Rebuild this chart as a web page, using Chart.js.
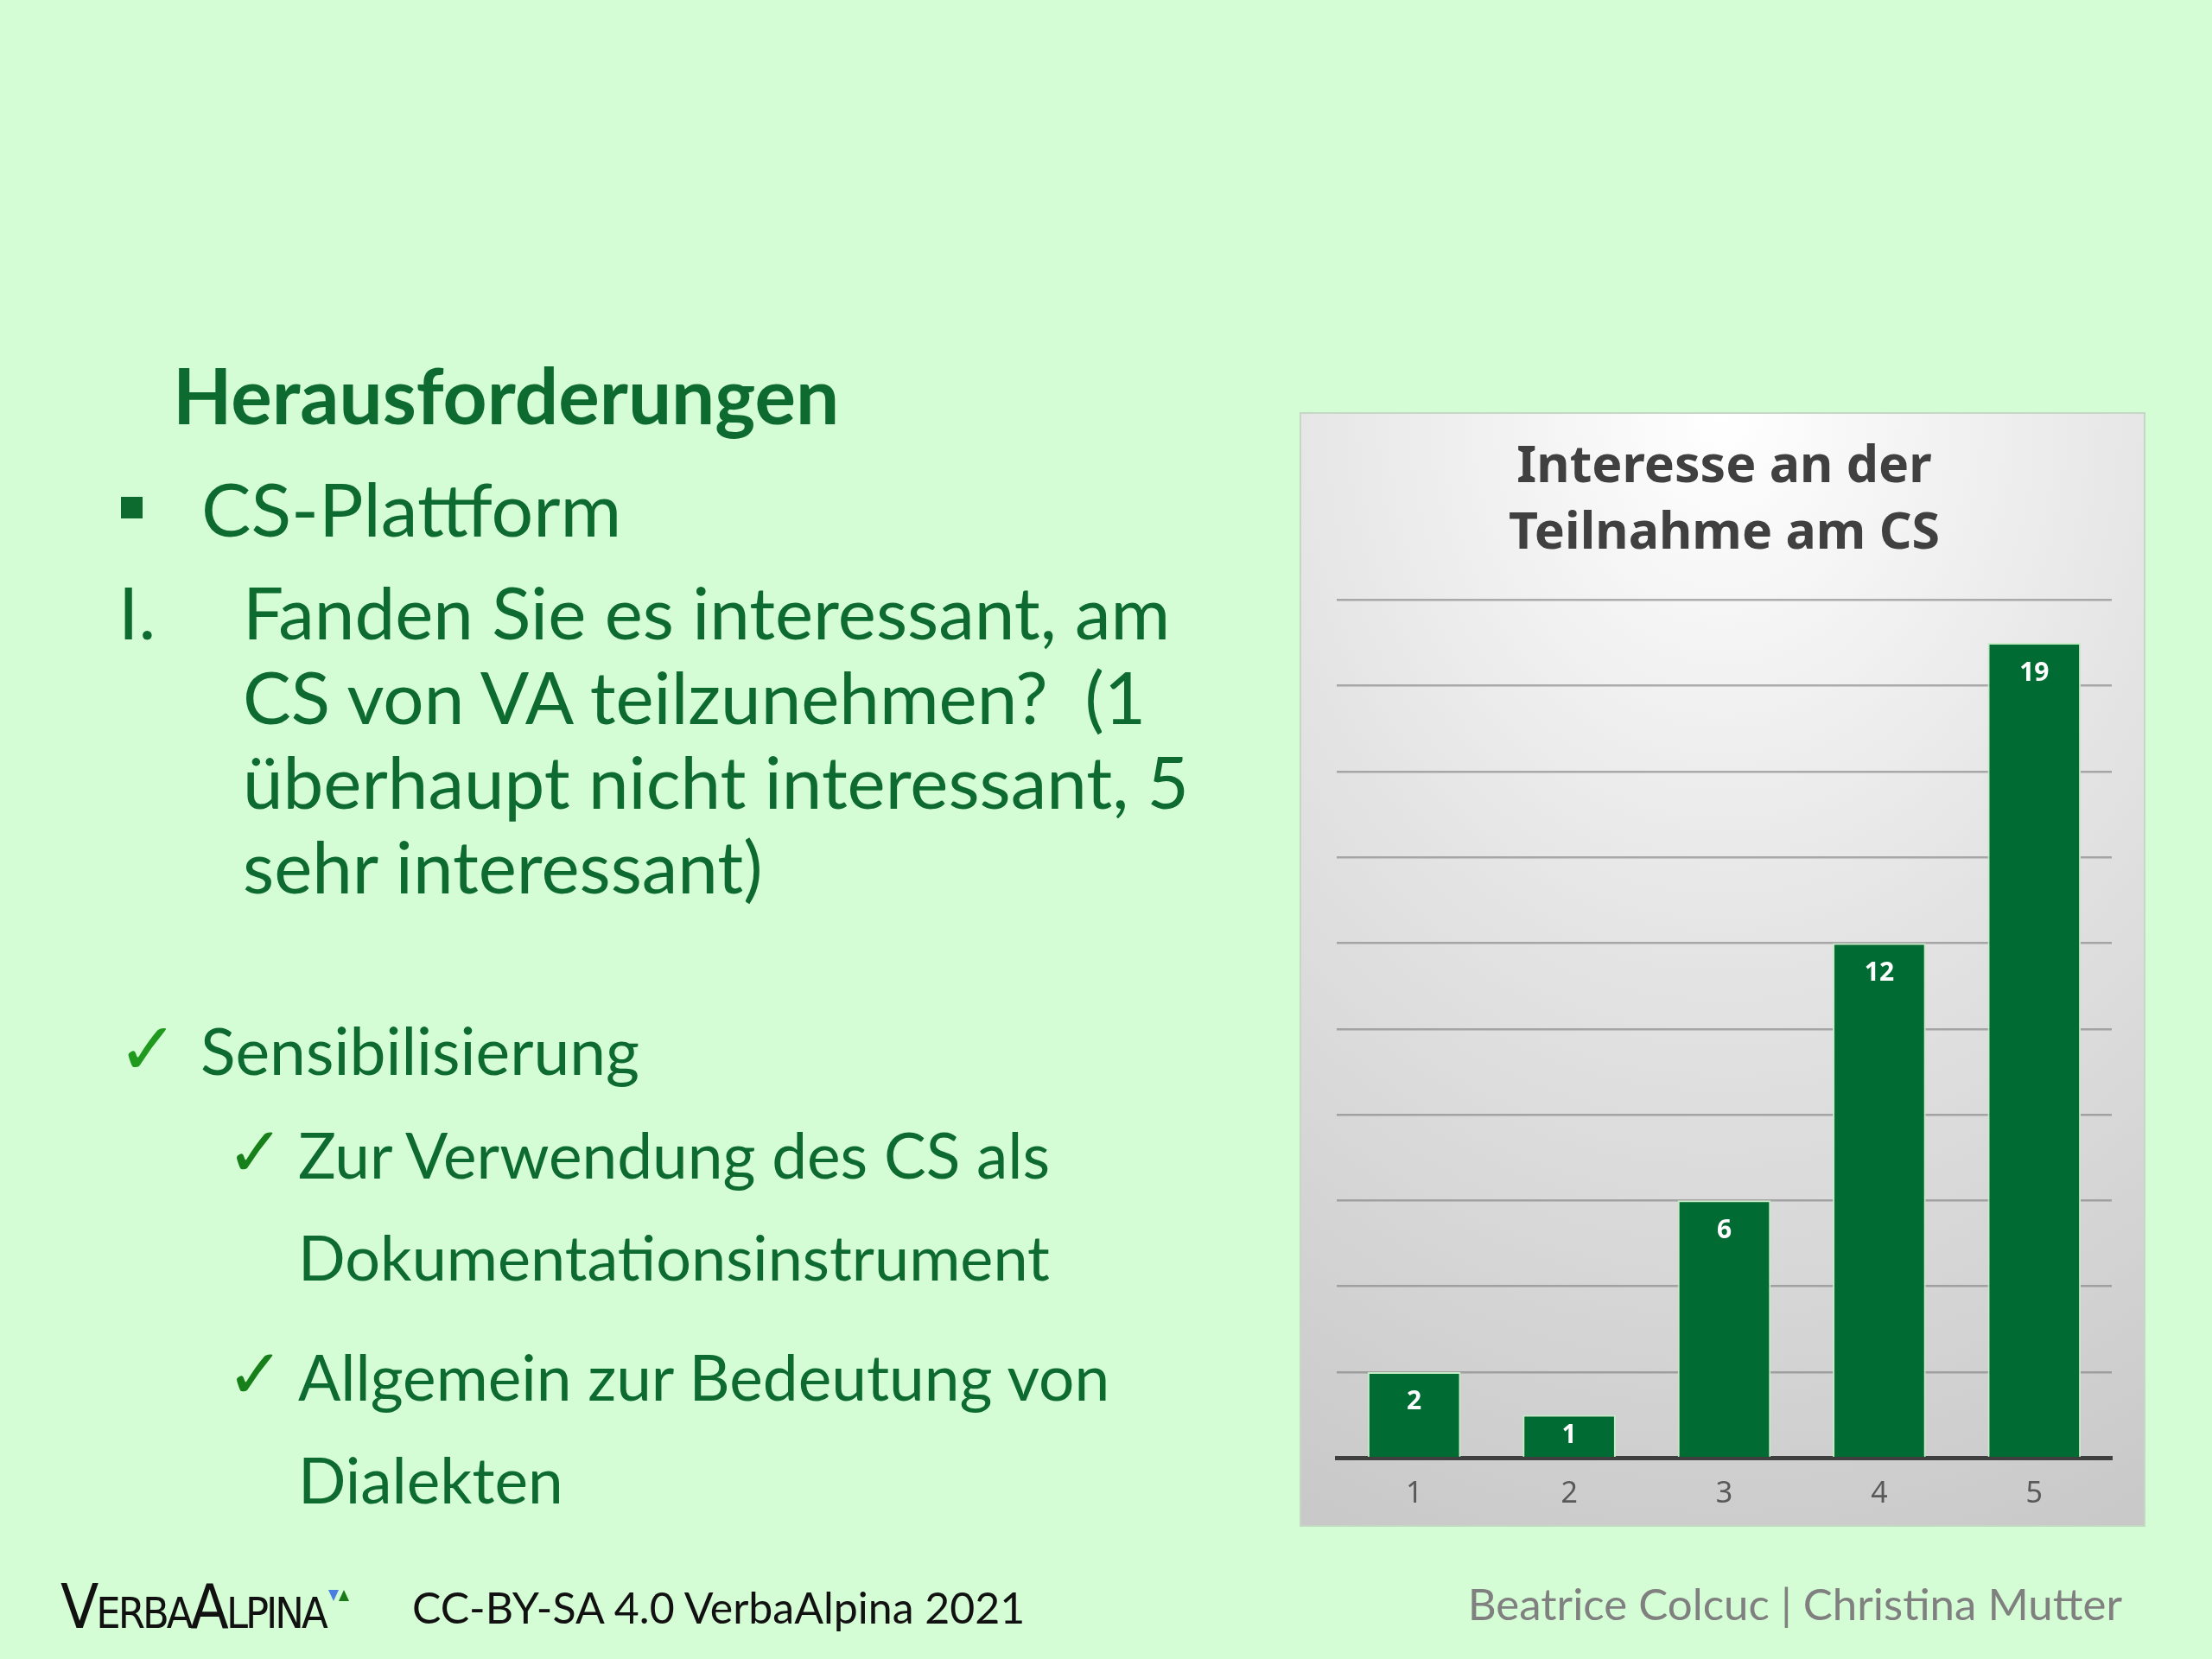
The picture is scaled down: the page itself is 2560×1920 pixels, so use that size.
<!DOCTYPE html>
<html>
<head>
<meta charset="utf-8">
<script src="https://cdn.jsdelivr.net/npm/chart.js@4.4.1/dist/chart.umd.min.js"></script>
<style>
  html, body { margin: 0; padding: 0; }
  body { width: 2560px; height: 1920px; background: #d5fdd5; position: relative; overflow: hidden; font-family: Lato, "Noto Sans", sans-serif; color: #0e6b30; }
  .t { position: absolute; white-space: nowrap; line-height: 1.2; }
  .chk { position: absolute; font-family: "DejaVu Sans", sans-serif; color: #1f9a1f; line-height: 1; }
  #box { position: absolute; left: 1504px; top: 477px; width: 979px; height: 1290px;
         border: 2px solid #c4d8c4; box-sizing: border-box;
         background: radial-gradient(ellipse 120% 110% at 50% 0%, #ffffff 0%, #e4e4e4 45%, #c8c8c8 100%); }
  #box canvas { position: absolute; left: 0; top: 0; }
</style>
</head>
<body>

<div class="t" style="left:200px; top:404px; font-size:89px; font-weight:bold;">Herausforderungen</div>

<div style="position:absolute; left:140px; top:575px; width:25px; height:25px; background:#0e6b30;"></div>
<div class="t" style="left:233px; top:536px; font-size:86px;">CS-Plattform</div>

<div class="t" style="left:137px; top:658px; font-size:83.5px;">I.</div>
<div class="t" style="left:281px; top:658px; font-size:83.5px;">Fanden Sie es interessant, am</div>
<div class="t" style="left:281px; top:756px; font-size:83.5px;">CS von VA teilzunehmen?&nbsp; (1</div>
<div class="t" style="left:281px; top:854px; font-size:83.5px;">überhaupt nicht interessant, 5</div>
<div class="t" style="left:281px; top:952px; font-size:83.5px;">sehr interessant)</div>

<div class="chk" style="left:136px; top:1172px; font-size:84px;">✓</div>
<div class="t" style="left:232px; top:1170px; font-size:75px;">Sensibilisierung</div>

<div class="chk" style="left:262px; top:1294px; font-size:80px; color:#17801a;">✓</div>
<div class="t" style="left:345px; top:1293px; font-size:73px;">Zur Verwendung des CS als</div>
<div class="t" style="left:345px; top:1411px; font-size:72px;">Dokumentationsinstrument</div>
<div class="chk" style="left:262px; top:1551px; font-size:80px; color:#17801a;">✓</div>
<div class="t" style="left:345px; top:1550px; font-size:73px;">Allgemein zur Bedeutung von</div>
<div class="t" style="left:345px; top:1669px; font-size:73px;">Dialekten</div>

<div class="t" style="left:70px; top:1816px; font-size:72px; color:#111; font-variant:small-caps; letter-spacing:-3px; font-family:'Liberation Sans Narrow','DejaVu Sans Condensed',sans-serif;">VerbaAlpina</div>
<div style="position:absolute; left:380px; top:1840px; width:0; height:0; border-left:6px solid transparent; border-right:6px solid transparent; border-top:13px solid #4a7ee0;"></div>
<div style="position:absolute; left:392px; top:1840px; width:0; height:0; border-left:6px solid transparent; border-right:6px solid transparent; border-bottom:13px solid #1a7a1a;"></div>
<div class="t" style="left:477px; top:1830px; font-size:50px; color:#111;">CC-BY-SA 4.0 VerbaAlpina 2021</div>
<div class="t" style="right:104px; top:1825px; font-size:51px; color:#808080;">Beatrice Colcuc | Christina Mutter</div>

<div id="box"><canvas id="chart" width="975" height="1286"></canvas></div>

<script>
// survey answers: 1 = not interesting at all, 5 = very interesting
const ratings = ['1', '2', '3', '4', '5'];
const answers = [2, 1, 6, 12, 19];
const chartTitle = ['Interesse an der', 'Teilnahme am CS'];

// draw the value inside the top of each bar (kept inside short bars)
const barLabels = {
    id: 'barLabels',
    afterDatasetsDraw(chart) {
        const ctx = chart.ctx;
        const meta = chart.getDatasetMeta(0);
        ctx.save();
        ctx.fillStyle = '#ffffff';
        ctx.font = 'bold 30px "Noto Sans", sans-serif';
        ctx.textAlign = 'center';
        ctx.textBaseline = 'middle';
        meta.data.forEach((bar, i) => {
            const off = Math.min(35, (bar.base - bar.y) / 2);
            ctx.fillText(answers[i], bar.x, bar.y + off);
        });
        ctx.restore();
    }
};

var ctx = document.getElementById('chart').getContext('2d');

var myBarChart = new Chart(ctx, {
    type: 'bar',
    data: {
        labels: ratings,
        datasets: [{
            data: answers,
            backgroundColor: '#006b32',
            borderColor: '#c6ecc6',
            borderWidth: 2,
            barPercentage: 0.6,
            categoryPercentage: 1.0
        }]
    },
    options: {
        responsive: false,
        animation: false,
        layout: {
            padding: { left: 41, right: 37, top: 24, bottom: 1 }
        },
        scales: {
            x: {
                grid: {
                    display: false
                },
                border: {
                    color: '#3f3f3f',
                    width: 5
                },
                ticks: {
                    color: '#595959',
                    padding: 14,
                    font: { family: '"Noto Sans", sans-serif', size: 34 }
                }
            },
            y: {
                min: 0,
                max: 20,
                ticks: {
                    stepSize: 2,
                    display: false
                },
                grid: {
                    color: 'rgba(125,125,125,0.6)',
                    lineWidth: 2.5,
                    drawTicks: false
                },
                border: {
                    display: false
                }
            }
        },
        plugins: {
            legend: { display: false },
            tooltip: { enabled: false },
            title: {
                display: true,
                text: chartTitle,
                color: '#404040',
                padding: { top: 0, bottom: 38 },
                font: {
                    family: '"Noto Sans", sans-serif',
                    size: 59,
                    weight: 'bold',
                    lineHeight: 1.3
                }
            }
        }
    },
    plugins: [barLabels]
});
</script>
</body>
</html>
